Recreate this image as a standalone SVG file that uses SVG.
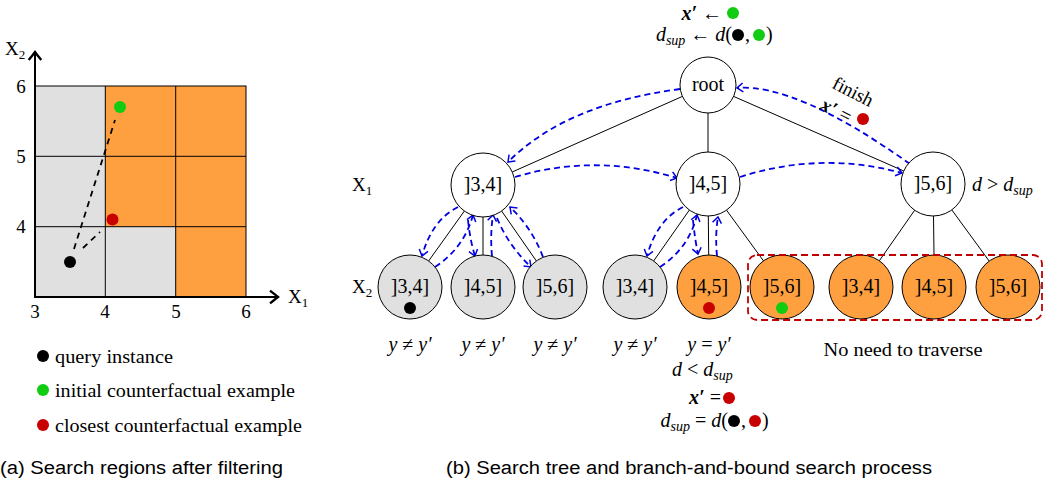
<svg xmlns="http://www.w3.org/2000/svg" width="1054" height="487" viewBox="0 0 1054 487">
<style>
text{font-family:"Liberation Serif","DejaVu Serif",serif;fill:#000}
.t{font-size:19px}
.m{font-size:20px}
.lbl{font-size:19px;text-anchor:middle}
.nl{font-size:20px;text-anchor:middle}
.i{font-style:italic}
.b{font-weight:bold;font-style:italic}
.sub{font-size:14px;font-style:italic}
.cap{font-family:"Liberation Sans","DejaVu Sans",sans-serif;font-size:18px}
.node{stroke:#000;stroke-width:1}
.w{fill:#fff}
.g{fill:#e0e0e0}
.o{fill:#ffa040}
.edge{stroke:#000;stroke-width:1;fill:none}
.trav{stroke:#0000e0;stroke-width:1.8;fill:none;stroke-dasharray:6 4;marker-end:url(#ah)}
.cell{stroke:#000;stroke-width:1}
</style>
<defs>
<marker id="ah" markerUnits="userSpaceOnUse" markerWidth="12" markerHeight="12" refX="0" refY="0" viewBox="-8 -6 10 12" orient="auto">
<path d="M-6,-4.5 Q-2,-1.5 0,0 Q-2,1.5 -6,4.5" fill="none" stroke="#0000e0" stroke-width="1.5"/>
</marker>
<marker id="ax" markerUnits="userSpaceOnUse" markerWidth="16" markerHeight="16" refX="0" refY="0" viewBox="-9 -7 11 14" orient="auto">
<path d="M-7,-5.5 Q-2,-1.5 0,0 Q-2,1.5 -7,5.5" fill="none" stroke="#000" stroke-width="2"/>
</marker>
</defs>

<!-- (a) search regions -->
<g id="plot">
<rect x="35" y="86" width="70.3" height="211" fill="#e0e0e0"/>
<rect x="105.3" y="226.7" width="70.4" height="70.3" fill="#e0e0e0"/>
<rect x="105.3" y="86" width="70.4" height="140.7" fill="#ffa040"/>
<rect x="175.7" y="86" width="70.3" height="211" fill="#ffa040"/>
<rect x="35" y="86" width="211" height="211" fill="none" class="cell"/>
<line x1="105.3" y1="86" x2="105.3" y2="297" class="cell"/>
<line x1="175.7" y1="86" x2="175.7" y2="297" class="cell"/>
<line x1="35" y1="156.3" x2="246" y2="156.3" class="cell"/>
<line x1="35" y1="226.7" x2="246" y2="226.7" class="cell"/>
<line x1="35" y1="298" x2="35" y2="52" stroke="#000" stroke-width="2" marker-end="url(#ax)"/>
<line x1="34" y1="297" x2="278" y2="297" stroke="#000" stroke-width="2" marker-end="url(#ax)"/>
<text x="5" y="55" class="t">X<tspan font-size="13" dy="4">2</tspan></text>
<text x="288" y="303" class="t">X<tspan font-size="13" dy="4">1</tspan></text>
<text x="21" y="93" class="lbl">6</text>
<text x="21" y="163" class="lbl">5</text>
<text x="21" y="233" class="lbl">4</text>
<text x="35" y="318" class="lbl">3</text>
<text x="105" y="318" class="lbl">4</text>
<text x="176" y="318" class="lbl">5</text>
<text x="246" y="318" class="lbl">6</text>
<line x1="74" y1="249" x2="115" y2="120" stroke="#000" stroke-width="1.8" stroke-dasharray="6 5"/>
<line x1="83" y1="248" x2="100" y2="232" stroke="#000" stroke-width="1.8" stroke-dasharray="6 5"/>
<circle cx="70" cy="262" r="6" fill="#000"/>
<circle cx="120" cy="107" r="6" fill="#11cc11"/>
<circle cx="112.5" cy="219.5" r="6" fill="#c80000"/>
</g>

<g id="legend">
<circle cx="43" cy="356" r="6" fill="#000"/>
<text x="55" y="363" class="t" textLength="118" lengthAdjust="spacingAndGlyphs">query instance</text>
<circle cx="43" cy="390" r="6" fill="#11cc11"/>
<text x="55" y="397" class="t" textLength="240" lengthAdjust="spacingAndGlyphs">initial counterfactual example</text>
<circle cx="43" cy="425" r="6" fill="#c80000"/>
<text x="55" y="432" class="t" textLength="247" lengthAdjust="spacingAndGlyphs">closest counterfactual example</text>
</g>
<text x="0" y="474" class="cap" textLength="283" lengthAdjust="spacingAndGlyphs">(a) Search regions after filtering</text>
<text x="446" y="474" class="cap" textLength="486" lengthAdjust="spacingAndGlyphs">(b) Search tree and branch-and-bound search process</text>

<!-- tree edges -->
<g id="edges">
<line x1="682.4" y1="96.4" x2="512.2" y2="172" class="edge"/>
<line x1="708" y1="113" x2="708" y2="152" class="edge"/>
<line x1="733.6" y1="96.4" x2="903.8" y2="171" class="edge"/>
<line x1="464.4" y1="211" x2="428.6" y2="261" class="edge"/>
<line x1="483" y1="217" x2="483" y2="255" class="edge"/>
<line x1="501.6" y1="211" x2="536.4" y2="261" class="edge"/>
<line x1="689.4" y1="210" x2="653.6" y2="261" class="edge"/>
<line x1="708.3" y1="216" x2="708.7" y2="255" class="edge"/>
<line x1="726.4" y1="210" x2="763.6" y2="261" class="edge"/>
<line x1="914.7" y1="210.2" x2="879.3" y2="260.8" class="edge"/>
<line x1="933.5" y1="216" x2="934" y2="255" class="edge"/>
<line x1="951.8" y1="209.9" x2="989.2" y2="261.1" class="edge"/>
</g>

<!-- traversal arrows -->
<g id="traversal">
<path d="M680,89 Q566,104 508,162" class="trav"/>
<path d="M515,177 Q596,153 677,178" class="trav"/>
<path d="M740,177 Q821,151 902,173" class="trav"/>
<path d="M910,164 Q796,83 737,88" class="trav"/>
<path d="M458,207 Q432,220 422,256" class="trav"/>
<path d="M435,267 Q464,248 473,215" class="trav"/>
<path d="M468,220 Q470,240 475,256" class="trav"/>
<path d="M492,256 Q490,235 493,215" class="trav"/>
<path d="M497,218 Q508,245 531,267" class="trav"/>
<path d="M543,257 Q532,228 510,207" class="trav"/>
<path d="M683,207 Q657,220 647,256" class="trav"/>
<path d="M660,267 Q689,248 697,215" class="trav"/>
<path d="M693,220 Q695,240 698,254" class="trav"/>
<path d="M717,256 Q715,235 718,217" class="trav"/>
</g>

<!-- nodes -->
<g id="root"><circle cx="708" cy="85" r="28" class="node w"/><text x="708" y="91" class="nl">root</text></g>
<g id="x1_34"><circle cx="483" cy="185" r="32" class="node w"/><text x="483" y="191" class="nl">]3,4]</text></g>
<g id="x1_45"><circle cx="708" cy="184" r="32" class="node w"/><text x="708" y="190" class="nl">]4,5]</text></g>
<g id="x1_56"><circle cx="933" cy="184" r="32" class="node w"/><text x="933" y="190" class="nl">]5,6]</text></g>

<g id="a_34"><circle cx="410" cy="287" r="32" class="node g"/><text x="410" y="293" class="nl">]3,4]</text><circle cx="410" cy="308" r="6" fill="#000"/></g>
<g id="a_45"><circle cx="483" cy="287" r="32" class="node g"/><text x="483" y="293" class="nl">]4,5]</text></g>
<g id="a_56"><circle cx="555" cy="287" r="32" class="node g"/><text x="555" y="293" class="nl">]5,6]</text></g>
<g id="b_34"><circle cx="635" cy="287" r="32" class="node g"/><text x="635" y="293" class="nl">]3,4]</text></g>
<g id="b_45"><circle cx="709" cy="287" r="32" class="node o"/><text x="709" y="293" class="nl">]4,5]</text><circle cx="709" cy="308" r="6" fill="#c80000"/></g>
<g id="b_56"><circle cx="782" cy="287" r="32" class="node o"/><text x="782" y="293" class="nl">]5,6]</text><circle cx="782" cy="308" r="6" fill="#11cc11"/></g>
<g id="c_34"><circle cx="861" cy="287" r="32" class="node o"/><text x="861" y="293" class="nl">]3,4]</text></g>
<g id="c_45"><circle cx="934" cy="287" r="32" class="node o"/><text x="934" y="293" class="nl">]4,5]</text></g>
<g id="c_56"><circle cx="1008" cy="287" r="32" class="node o"/><text x="1008" y="293" class="nl">]5,6]</text></g>

<g id="prune-box">
<rect x="748" y="255" width="294" height="65" rx="9" fill="none" stroke="#c00000" stroke-width="1.8" stroke-dasharray="7 4"/>
<text x="903" y="356" class="lbl" textLength="159" lengthAdjust="spacingAndGlyphs">No need to traverse</text>
</g>

<!-- annotations -->
<g id="annotations">
<text x="352" y="191" class="t">X<tspan font-size="13" dy="4">1</tspan></text>
<text x="352" y="293" class="t">X<tspan font-size="13" dy="4">2</tspan></text>
<text x="972" y="191" class="m"><tspan class="i">d</tspan> &gt; <tspan class="i">d</tspan><tspan class="sub" dy="4">sup</tspan></text>

<text x="722" y="20" class="m" text-anchor="end"><tspan class="b">x′</tspan> ←</text>
<circle cx="733" cy="13" r="6" fill="#11cc11"/>
<text x="732" y="41" class="m" text-anchor="end"><tspan class="i">d</tspan><tspan class="sub" dy="4">sup</tspan><tspan dy="-4"> ← </tspan><tspan class="i">d</tspan>(</text>
<circle cx="738" cy="35" r="6" fill="#000"/>
<text x="745" y="41" class="m">,</text>
<circle cx="759" cy="35" r="6" fill="#11cc11"/>
<text x="766" y="41" class="m">)</text>

<text x="853" y="98" class="lbl" transform="rotate(27 853 92)">finish</text>
<text x="836" y="117" class="m" text-anchor="middle" transform="rotate(27 836 111)"><tspan class="b">x′</tspan> =</text>
<circle cx="863" cy="119" r="6" fill="#c80000"/>

<text x="410" y="351" class="m" text-anchor="middle"><tspan class="i">y</tspan> ≠ <tspan class="i">y′</tspan></text>
<text x="483" y="351" class="m" text-anchor="middle"><tspan class="i">y</tspan> ≠ <tspan class="i">y′</tspan></text>
<text x="555" y="351" class="m" text-anchor="middle"><tspan class="i">y</tspan> ≠ <tspan class="i">y′</tspan></text>
<text x="635" y="351" class="m" text-anchor="middle"><tspan class="i">y</tspan> ≠ <tspan class="i">y′</tspan></text>
<text x="709" y="351" class="m" text-anchor="middle"><tspan class="i">y</tspan> = <tspan class="i">y′</tspan></text>
<text x="672" y="376" class="m"><tspan class="i">d</tspan> &lt; <tspan class="i">d</tspan><tspan class="sub" dy="4">sup</tspan></text>
<text x="721" y="404" class="m" text-anchor="end"><tspan class="b">x′</tspan> =</text>
<circle cx="729" cy="398" r="6" fill="#c80000"/>
<text x="728" y="427" class="m" text-anchor="end"><tspan class="i">d</tspan><tspan class="sub" dy="4">sup</tspan><tspan dy="-4"> = </tspan><tspan class="i">d</tspan>(</text>
<circle cx="734" cy="421" r="6" fill="#000"/>
<text x="741" y="427" class="m">,</text>
<circle cx="755" cy="421" r="6" fill="#c80000"/>
<text x="762" y="427" class="m">)</text>
</g>
</svg>
